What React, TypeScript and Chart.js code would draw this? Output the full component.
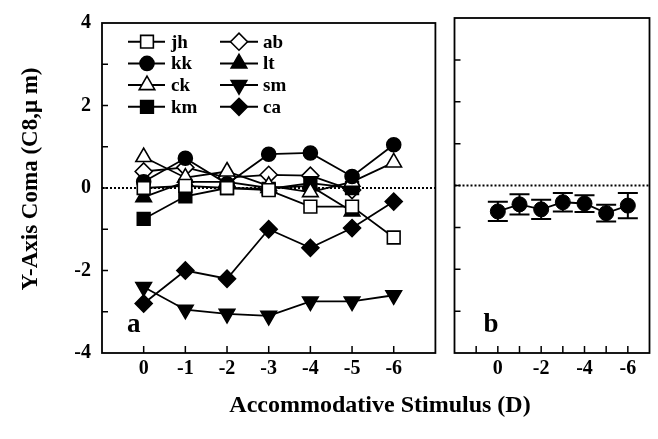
import React, { useEffect, useRef } from 'react';
import { Chart, registerables } from 'chart.js';
import { drawPoint } from 'chart.js/helpers';

Chart.register(...registerables);

// ---------- data ----------
const stimulus = [0, -1, -2, -3, -4, -5, -6];
const seriesNames = ['jh', 'kk', 'ck', 'km', 'ab', 'lt', 'sm', 'ca'];
const jh = [0.0, 0.05, 0.0, -0.05, -0.45, -0.45, -1.2];
const kk = [0.15, 0.72, 0.1, 0.82, 0.85, 0.28, 1.05];
const ck = [0.75, 0.25, 0.4, 0.05, -0.1, 0.15, 0.62];
const km = [-0.75, -0.2, 0.0, -0.02, 0.12, 0.0, null];
const ab = [0.4, 0.5, 0.25, 0.32, 0.3, -0.05, null];
const lt = [-0.22, 0.15, 0.15, 0.0, 0.05, -0.57, null];
const sm = [-2.4, -2.95, -3.05, -3.1, -2.75, -2.75, -2.6];
const ca = [-2.8, -2.0, -2.2, -1.0, -1.45, -0.97, -0.33];
const seriesValues = [jh, kk, ck, km, ab, lt, sm, ca];

const meanAll = [-0.62, -0.45, -0.57, -0.4, -0.43, -0.66, -0.48];
const errAll = [0.23, 0.24, 0.23, 0.22, 0.2, 0.2, 0.3];

const yTickValues = [-4, -3, -2, -1, 0, 1, 2, 3, 4];
const xTicksA = [0, -1, -2, -3, -4, -5, -6];
const xTicksB = [1, 0, -1, -2, -3, -4, -5, -6];
const xLabelsB = [0, -2, -4, -6];

const yTitle = 'Y-Axis Coma (C8,\u03bc m)';
const xTitle = 'Accommodative Stimulus (D)';

// ---------- styles ----------
const FAMILY = "'Liberation Serif', 'Times New Roman', serif";
const markerStyles: Record<string, any> = {
  jh: { pointStyle: 'rect', filled: false, radius: 9, rotation: 0 },
  kk: { pointStyle: 'circle', filled: true, radius: 7, rotation: 0 },
  ck: { pointStyle: 'triangle', filled: false, radius: 9, rotation: 0 },
  km: { pointStyle: 'rect', filled: true, radius: 9, rotation: 0 },
  ab: { pointStyle: 'rectRot', filled: false, radius: 8.5, rotation: 0 },
  lt: { pointStyle: 'triangle', filled: true, radius: 9, rotation: 0 },
  sm: { pointStyle: 'triangle', filled: true, radius: 9, rotation: 180 },
  ca: { pointStyle: 'rectRot', filled: true, radius: 8.5, rotation: 0 },
};

const framePlugin = {
  id: 'frameTicks',
  beforeDatasetsDraw(chart: any) {
    const { ctx, chartArea } = chart;
    const { left, right, top, bottom } = chartArea;
    const x = chart.scales.x;
    const y = chart.scales.y;
    ctx.save();
    ctx.strokeStyle = '#000';
    ctx.lineWidth = 2;
    ctx.setLineDash([2, 2]);
    const y0 = y.getPixelForValue(0);
    ctx.beginPath();
    ctx.moveTo(left, y0);
    ctx.lineTo(right, y0);
    ctx.stroke();
    ctx.setLineDash([]);
    ctx.lineWidth = 1.5;
    ctx.beginPath();
    x.ticks.forEach((t: any) => {
      const px = x.getPixelForValue(t.value);
      ctx.moveTo(px, bottom);
      ctx.lineTo(px, bottom - 7);
    });
    y.ticks.forEach((t: any) => {
      if (t.value > -4 && t.value < 4) {
        const py = y.getPixelForValue(t.value);
        ctx.moveTo(left, py);
        ctx.lineTo(left + 6, py);
      }
    });
    ctx.stroke();
    ctx.lineWidth = 1.8;
    ctx.strokeRect(left, top, right - left, bottom - top);
    ctx.restore();
  },
};

const panelLabelPlugin = {
  id: 'panelLabel',
  afterDraw(chart: any, _args: any, opts: any) {
    if (!opts || !opts.text) return;
    const { ctx, chartArea } = chart;
    ctx.save();
    ctx.fillStyle = '#000';
    ctx.font = `bold 27px ${FAMILY}`;
    ctx.textAlign = 'left';
    ctx.textBaseline = 'alphabetic';
    ctx.fillText(opts.text, chartArea.left + opts.dx, chartArea.bottom - 21);
    ctx.restore();
  },
};

const yTitlePlugin = {
  id: 'yTitleText',
  afterDraw(chart: any, _args: any, opts: any) {
    if (!opts || !opts.text) return;
    const { ctx } = chart;
    ctx.save();
    ctx.translate(opts.x, opts.y);
    ctx.rotate(-Math.PI / 2);
    ctx.fillStyle = '#000';
    ctx.font = `bold 23px ${FAMILY}`;
    ctx.textAlign = 'center';
    ctx.textBaseline = 'middle';
    ctx.fillText(opts.text, 0, 0);
    ctx.restore();
  },
};

const legendPlugin = {
  id: 'customLegend',
  afterDatasetsDraw(chart: any, _args: any, opts: any) {
    if (!opts || !opts.show) return;
    const { ctx, chartArea } = chart;
    const cols = [
      { x0: 26, x1: 63, mk: 45, tx: 69 },
      { x0: 118, x1: 156, mk: 137, tx: 161 },
    ];
    ctx.save();
    seriesNames.forEach((name, i) => {
      const col = cols[i < 4 ? 0 : 1];
      const row = i % 4;
      const cy = chartArea.top + 18.7 + row * 21.7;
      const st = markerStyles[name];
      ctx.strokeStyle = '#000';
      ctx.lineWidth = 2;
      ctx.beginPath();
      ctx.moveTo(chartArea.left + col.x0, cy);
      ctx.lineTo(chartArea.left + col.x1, cy);
      ctx.stroke();
      ctx.fillStyle = st.filled ? '#000' : '#fff';
      ctx.lineWidth = 1.6;
      drawPoint(ctx, { pointStyle: st.pointStyle, rotation: st.rotation, radius: st.radius, borderWidth: 1.6 } as any, chartArea.left + col.mk, cy);
      ctx.fillStyle = '#000';
      ctx.font = `bold 19px ${FAMILY}`;
      ctx.textAlign = 'left';
      ctx.textBaseline = 'middle';
      ctx.fillText(name, chartArea.left + col.tx, cy + 1);
    });
    ctx.restore();
  },
};

const errorBarPlugin = {
  id: 'errorBars',
  beforeDatasetsDraw(chart: any, _args: any, opts: any) {
    if (!opts || !opts.errors) return;
    const { ctx } = chart;
    const x = chart.scales.x;
    const y = chart.scales.y;
    ctx.save();
    ctx.strokeStyle = '#000';
    ctx.lineWidth = 2;
    ctx.beginPath();
    opts.xs.forEach((xv: number, i: number) => {
      const px = x.getPixelForValue(xv);
      const hi = y.getPixelForValue(opts.means[i] + opts.errors[i]);
      const lo = y.getPixelForValue(opts.means[i] - opts.errors[i]);
      ctx.moveTo(px, hi);
      ctx.lineTo(px, lo);
      ctx.moveTo(px - 10, hi);
      ctx.lineTo(px + 10, hi);
      ctx.moveTo(px - 10, lo);
      ctx.lineTo(px + 10, lo);
    });
    ctx.stroke();
    ctx.restore();
  },
};

const tickFont = { family: FAMILY, size: 20, weight: 'bold' as const };

function makeXScale(min: number, max: number, tickVals: number[], labelVals: number[]) {
  return {
    type: 'linear' as const,
    min,
    max,
    reverse: true,
    afterBuildTicks: (s: any) => {
      s.ticks = tickVals.map((v) => ({ value: v }));
    },
    afterFit: (s: any) => {
      s.height = 439 - 353;
    },
    grid: { display: false, drawTicks: false },
    border: { display: false },
    ticks: {
      padding: 4,
      color: '#000',
      font: tickFont,
      autoSkip: false,
      maxRotation: 0,
      callback: (v: any) => (labelVals.includes(Number(v)) ? String(v) : ''),
    },
  };
}

export default function App() {
  const refA = useRef<HTMLCanvasElement>(null);
  const refB = useRef<HTMLCanvasElement>(null);

  useEffect(() => {
    const datasetsA = seriesNames.map((name, i) => {
      const st = markerStyles[name];
      return {
        label: name,
        data: stimulus.map((xv, j) => ({ x: xv, y: seriesValues[i][j] })),
        borderColor: '#000',
        borderWidth: 1.8,
        pointStyle: st.pointStyle,
        pointRotation: st.rotation,
        pointRadius: st.radius,
        pointBackgroundColor: st.filled ? '#000' : '#fff',
        pointBorderColor: '#000',
        pointBorderWidth: 1.6,
        fill: false,
        tension: 0,
      };
    });

    const chartA = new Chart(refA.current!, {
      type: 'line',
      data: { datasets: datasetsA as any },
      options: {
        animation: false,
        responsive: false,
        maintainAspectRatio: false,
        layout: { padding: { left: 0, right: 5, top: 18, bottom: 0 } },
        plugins: {
          legend: { display: false },
          tooltip: { enabled: false },
          customLegend: { show: true },
          panelLabel: { text: 'a', dx: 25 },
          yTitleText: { text: yTitle, x: 31, y: 179 },
        } as any,
        scales: {
          x: makeXScale(-7, 1, xTicksA, xTicksA) as any,
          y: {
            min: -4,
            max: 4,
            afterBuildTicks: (s: any) => {
              s.ticks = yTickValues.map((v) => ({ value: v }));
            },
            afterFit: (s: any) => {
              s.width = 102;
            },
            grid: { display: false, drawTicks: false },
            border: { display: false },
            ticks: {
              padding: 11,
              color: '#000',
              font: tickFont,
              autoSkip: false,
              callback: (v: any) => (Number(v) % 2 === 0 ? String(v) : ''),
            },
          } as any,
        },
      },
      plugins: [framePlugin, legendPlugin, panelLabelPlugin, yTitlePlugin],
    });

    const chartB = new Chart(refB.current!, {
      type: 'line',
      data: {
        datasets: [
          {
            label: 'all',
            data: stimulus.map((xv, j) => ({ x: xv, y: meanAll[j] })),
            borderColor: '#000',
            borderWidth: 1.8,
            pointStyle: 'circle',
            pointRadius: 7.5,
            pointBackgroundColor: '#000',
            pointBorderColor: '#000',
            pointBorderWidth: 1,
            fill: false,
            tension: 0,
          } as any,
        ],
      },
      options: {
        animation: false,
        responsive: false,
        maintainAspectRatio: false,
        layout: { padding: { left: 0, right: 8, top: 18, bottom: 0 } },
        plugins: {
          legend: { display: false },
          tooltip: { enabled: false },
          panelLabel: { text: 'b', dx: 29 },
          errorBars: { xs: stimulus, means: meanAll, errors: errAll },
        } as any,
        scales: {
          x: makeXScale(-7, 2, xTicksB, xLabelsB) as any,
          y: {
            min: -4,
            max: 4,
            afterBuildTicks: (s: any) => {
              s.ticks = yTickValues.map((v) => ({ value: v }));
            },
            afterFit: (s: any) => {
              s.width = 3;
            },
            grid: { display: false, drawTicks: false },
            border: { display: false },
            ticks: { display: false },
          } as any,
        },
      },
      plugins: [framePlugin, errorBarPlugin, panelLabelPlugin],
    });

    return () => {
      chartA.destroy();
      chartB.destroy();
    };
  }, []);

  return (
    <div style={{ position: 'absolute', left: 0, top: 0, width: 658, height: 439, background: '#fff' }}>
      <canvas ref={refA} width={446} height={439} style={{ position: 'absolute', left: 0, top: 0 }} />
      <canvas ref={refB} width={212} height={439} style={{ position: 'absolute', left: 446, top: 0 }} />
      <div
        style={{
          position: 'absolute',
          left: 106,
          width: 548,
          top: 391,
          textAlign: 'center',
          fontFamily: FAMILY,
          fontWeight: 'bold',
          fontSize: 24,
          lineHeight: '27px',
          color: '#000',
        }}
      >
        {xTitle}
      </div>
    </div>
  );
}
